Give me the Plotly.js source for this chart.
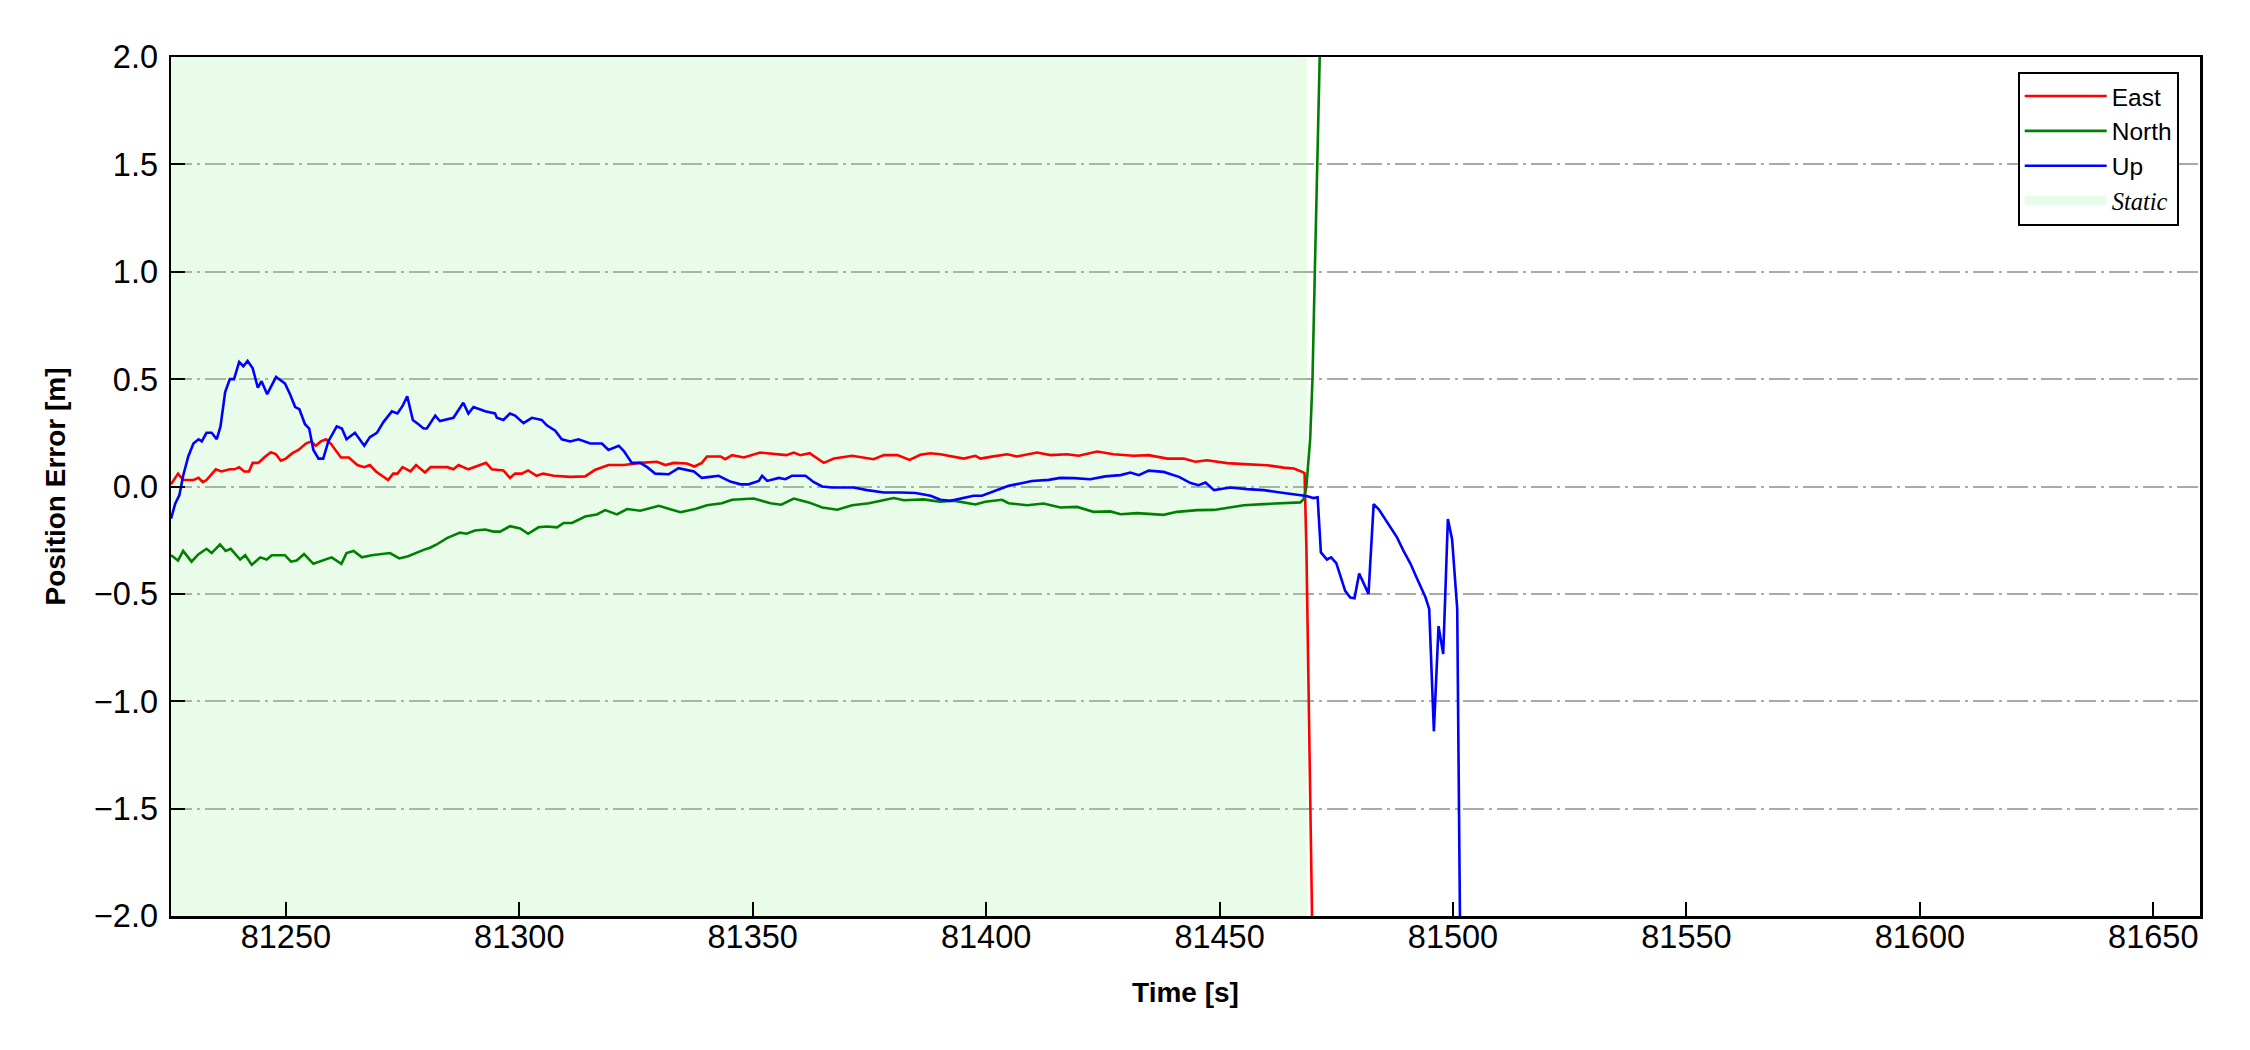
<!DOCTYPE html>
<html>
<head>
<meta charset="utf-8">
<script src="https://cdn.plot.ly/plotly-3.0.1.min.js"></script>
<style>html,body{margin:0;padding:0;background:#fff;}</style>
</head>
<body>
<div id="chart" style="width:2250px;height:1050px;"></div>
<script>
// ---- Data ----
const eastT = [81225.4,81226.9,81228.0,81230.2,81231.3,81232.2,81233.0,81235.0,81236.2,81238.0,81239.0,81240.0,81241.1,81242.1,81242.9,81244.1,81245.6,81246.8,81247.9,81248.9,81250.0,81251.4,81252.7,81254.3,81255.4,81256.4,81257.5,81258.6,81259.6,81260.7,81261.8,81263.5,81265.3,81266.8,81268.0,81269.3,81270.5,81271.9,81273.0,81273.9,81275.0,81276.7,81277.9,81279.8,81281.0,81282.6,81284.6,81285.9,81287.0,81289.1,81290.9,81292.9,81294.1,81296.6,81298.0,81299.1,81300.5,81301.9,81303.7,81305.1,81307.4,81310.9,81314.1,81316.3,81319.1,81322.4,81325.9,81329.5,81331.3,81333.1,81335.9,81337.5,81339.1,81340.2,81343.1,81344.1,81345.6,81348.1,81351.6,81354.5,81357.2,81358.8,81360.2,81362.2,81365.2,81367.4,81371.3,81375.9,81378.1,81381.0,81383.6,81385.9,81388.0,81390.2,81393.0,81395.2,81397.7,81398.8,81400.9,81404.5,81406.6,81410.9,81413.8,81417.3,81419.8,81423.8,81427.3,81431.6,81434.8,81438.8,81442.3,81444.8,81447.3,81451.6,81455.2,81460.2,81463.7,81465.9,81467.7,81468.2,81468.6,81469.8,81471.0];
const eastV = [0.01,0.06,0.03,0.03,0.04,0.02,0.03,0.08,0.07,0.08,0.08,0.09,0.07,0.07,0.11,0.11,0.14,0.16,0.15,0.12,0.13,0.155,0.17,0.20,0.21,0.19,0.21,0.22,0.20,0.17,0.135,0.135,0.10,0.09,0.10,0.07,0.05,0.03,0.06,0.06,0.09,0.07,0.10,0.065,0.09,0.09,0.09,0.08,0.10,0.08,0.095,0.11,0.08,0.075,0.04,0.06,0.06,0.075,0.05,0.06,0.05,0.045,0.047,0.078,0.10,0.10,0.11,0.115,0.10,0.11,0.107,0.093,0.11,0.14,0.14,0.127,0.146,0.135,0.158,0.15,0.146,0.158,0.146,0.155,0.11,0.13,0.143,0.127,0.146,0.146,0.124,0.148,0.155,0.15,0.14,0.13,0.143,0.13,0.138,0.15,0.14,0.158,0.146,0.15,0.143,0.163,0.15,0.143,0.146,0.13,0.13,0.115,0.122,0.109,0.104,0.099,0.088,0.084,0.068,0.062,-0.29,-2.0,-3.7];

const northT = [81225.4,81226.9,81228.0,81229.8,81231.3,81233.0,81234.1,81235.9,81237.1,81238.2,81240.2,81241.3,81242.7,81244.5,81245.9,81247.0,81249.8,81251.1,81252.3,81253.9,81255.9,81258.0,81259.8,81261.9,81263.0,81264.5,81266.3,81268.4,81270.2,81272.3,81274.3,81276.2,81279.5,81280.9,81282.3,81284.5,81287.3,81288.7,81290.5,81292.7,81294.5,81295.9,81298.0,81300.2,81301.9,81304.1,81305.9,81308.1,81309.5,81311.3,81314.1,81316.6,81318.4,81320.9,81323.1,81325.9,81329.9,81334.5,81337.7,81340.2,81343.4,81345.6,81350.2,81353.8,81356.1,81358.8,81362.0,81364.9,81368.1,81371.3,81374.9,81377.4,81380.2,81382.4,81386.6,81388.8,81390.2,81393.0,81395.2,81397.7,81399.8,81403.4,81404.8,81408.8,81412.3,81415.9,81419.5,81423.0,81426.6,81428.8,81432.3,81435.2,81438.0,81440.9,81445.2,81448.8,81452.3,81455.2,81459.5,81463.0,81467.3,81468.0,81468.6,81469.4,81469.9,81470.4,81470.9,81471.5,81472.5];
const northV = [-0.32,-0.345,-0.30,-0.35,-0.315,-0.29,-0.31,-0.27,-0.30,-0.29,-0.34,-0.32,-0.365,-0.33,-0.34,-0.32,-0.32,-0.35,-0.345,-0.315,-0.36,-0.345,-0.33,-0.36,-0.31,-0.30,-0.33,-0.32,-0.315,-0.31,-0.335,-0.325,-0.295,-0.285,-0.27,-0.24,-0.215,-0.22,-0.205,-0.20,-0.21,-0.21,-0.185,-0.195,-0.22,-0.19,-0.186,-0.19,-0.17,-0.17,-0.14,-0.13,-0.11,-0.13,-0.105,-0.113,-0.09,-0.12,-0.105,-0.087,-0.078,-0.062,-0.056,-0.078,-0.085,-0.056,-0.074,-0.098,-0.108,-0.087,-0.078,-0.067,-0.054,-0.064,-0.06,-0.067,-0.071,-0.066,-0.074,-0.084,-0.071,-0.062,-0.078,-0.087,-0.079,-0.098,-0.095,-0.118,-0.116,-0.129,-0.124,-0.129,-0.132,-0.118,-0.110,-0.109,-0.098,-0.087,-0.082,-0.078,-0.074,-0.059,0.0,0.22,0.5,1.0,1.5,2.0,3.0];

const upT = [81225.4,81226.3,81227.2,81228.0,81229.1,81230.2,81231.3,81232.0,81233.0,81234.1,81235.2,81236.0,81237.0,81238.0,81238.9,81240.0,81240.9,81241.8,81242.9,81244.0,81244.8,81246.0,81247.9,81249.8,81250.9,81252.0,81252.9,81254.1,81255.0,81255.9,81257.0,81258.0,81259.1,81260.9,81262.0,81263.0,81264.8,81266.8,81268.0,81269.5,81270.9,81272.7,81273.9,81275.0,81276.0,81277.2,81278.4,81279.5,81280.2,81282.0,81283.0,81285.9,81288.0,81289.1,81290.2,81292.7,81294.8,81295.2,81296.6,81298.0,81299.1,81300.9,81302.7,81304.8,81305.9,81307.7,81309.1,81310.9,81312.7,81315.2,81317.7,81319.1,81321.3,81322.4,81324.1,81325.9,81327.4,81329.1,81332.0,81334.1,81337.4,81339.1,81340.9,81342.7,81345.2,81347.4,81349.1,81351.3,81352.0,81353.1,81355.6,81357.0,81358.4,81361.3,81363.1,81364.9,81367.0,81371.6,81374.5,81378.1,81381.6,81384.9,81388.1,81390.2,81392.3,81394.5,81397.3,81399.1,81401.3,81404.8,81407.3,81409.8,81413.4,81415.9,81418.8,81422.3,81425.5,81428.8,81430.9,81432.7,81434.8,81438.0,81441.3,81443.8,81445.5,81447.0,81448.8,81452.3,81455.9,81459.5,81463.0,81466.4,81468.6,81470.1,81471.0,81471.7,81473.0,81473.9,81475.0,81476.9,81478.0,81478.9,81479.9,81481.9,81483.0,81484.1,81485.5,81486.6,81488.0,81489.4,81490.9,81491.9,81493.0,81494.1,81494.9,81495.9,81496.9,81497.9,81498.9,81499.8,81500.9,81501.6,81502.5];
const upV = [-0.15,-0.08,-0.04,0.05,0.14,0.20,0.22,0.21,0.25,0.25,0.22,0.28,0.44,0.50,0.50,0.58,0.56,0.585,0.55,0.46,0.49,0.43,0.51,0.48,0.43,0.37,0.36,0.29,0.27,0.17,0.13,0.13,0.21,0.28,0.27,0.22,0.25,0.19,0.23,0.25,0.30,0.35,0.34,0.375,0.42,0.31,0.29,0.27,0.27,0.33,0.305,0.32,0.39,0.34,0.37,0.35,0.34,0.32,0.31,0.34,0.33,0.295,0.32,0.31,0.285,0.26,0.22,0.21,0.22,0.20,0.20,0.17,0.19,0.165,0.11,0.11,0.09,0.06,0.057,0.085,0.07,0.04,0.045,0.05,0.023,0.01,0.01,0.026,0.05,0.026,0.04,0.034,0.05,0.05,0.02,0.0,-0.005,-0.005,-0.017,-0.028,-0.028,-0.03,-0.043,-0.062,-0.067,-0.056,-0.043,-0.043,-0.025,0.003,0.014,0.026,0.031,0.04,0.039,0.034,0.047,0.053,0.065,0.053,0.074,0.068,0.045,0.016,0.006,0.019,-0.017,-0.005,-0.012,-0.017,-0.028,-0.039,-0.044,-0.054,-0.05,-0.307,-0.34,-0.33,-0.357,-0.486,-0.517,-0.52,-0.405,-0.50,-0.082,-0.106,-0.152,-0.187,-0.237,-0.30,-0.36,-0.41,-0.46,-0.516,-0.57,-1.14,-0.65,-0.78,-0.152,-0.245,-0.57,-2.0,-4.5];

const staticStart = 81225.4;
const staticEnd = 81468.7;
const xRange = [81225.4, 81660];
const yRange = [-2, 2];
const xTicks = [81250, 81300, 81350, 81400, 81450, 81500, 81550, 81600, 81650];
const yTicks = [-2.0, -1.5, -1.0, -0.5, 0.0, 0.5, 1.0, 1.5, 2.0];
const seriesNames = ['East', 'North', 'Up'];
const seriesColors = ['#ff0000', '#008000', '#0000ff'];
const staticName = 'Static';

const FONT = 'Liberation Sans, Arial, sans-serif';
const W = 2250, H = 1050;
const M = {l: 171, r: 50, t: 57, b: 134, pad: 0};
const plotH = H - M.t - M.b;

// Static interval: drawn as a band spanning the full y range (centre line, width = plot height)
const yMid = (yRange[0] + yRange[1]) / 2;
const traces = [
  {
    x: [staticStart, staticEnd], y: [yMid, yMid],
    type: 'scatter', mode: 'lines',
    line: {color: 'rgba(144,238,144,0.2)', width: plotH},
    name: '<span style="font-family:Liberation Serif"><i>' + staticName + '</i></span>',
    legendrank: 4, hoverinfo: 'skip'
  },
  {x: eastT, y: eastV, name: seriesNames[0], legendrank: 1},
  {x: northT, y: northV, name: seriesNames[1], legendrank: 2},
  {x: upT, y: upV, name: seriesNames[2], legendrank: 3}
];
for (let i = 1; i < traces.length; i++) {
  traces[i].type = 'scatter';
  traces[i].mode = 'lines';
  traces[i].line = {color: seriesColors[i - 1], width: 2.6};
}

const layout = {
  width: W, height: H,
  margin: M,
  paper_bgcolor: '#ffffff', plot_bgcolor: '#ffffff',
  font: {family: FONT, color: '#000000'},
  showlegend: true,
  legend: {
    x: 0.9895, y: 0.983, xanchor: 'right', yanchor: 'top',
    bgcolor: '#ffffff', bordercolor: '#000000', borderwidth: 2,
    font: {family: FONT, size: 24.5, color: '#000000'},
    itemwidth: 82, tracegroupgap: 0, traceorder: 'normal'
  },
  xaxis: {
    range: xRange, tickvals: xTicks, tickformat: 'd',
    ticks: 'inside', ticklen: 14, tickwidth: 2, tickcolor: '#000000',
    showline: true, linecolor: '#000000', linewidth: 2.5, mirror: true,
    showgrid: false, zeroline: false,
    tickfont: {family: FONT, size: 32.5, color: '#000000'},
    ticklabelstandoff: -10,
    title: {text: '<b>Time [s]</b>', font: {family: FONT, size: 28, color: '#000000'}, standoff: 29}
  },
  yaxis: {
    range: yRange, tickvals: yTicks, tickformat: '.1f',
    ticks: 'inside', ticklen: 14, tickwidth: 2, tickcolor: '#000000',
    showline: true, linecolor: '#000000', linewidth: 2.5, mirror: true,
    showgrid: true, gridcolor: '#a9a9a9', gridwidth: 2, griddash: '21px,5px,3px,5px',
    zeroline: false,
    tickfont: {family: FONT, size: 32.5, color: '#000000'},
    ticklabelstandoff: 4,
    title: {text: '<b>Position Error [m]</b>', font: {family: FONT, size: 28, color: '#000000'}, standoff: 20}
  }
};

Plotly.newPlot('chart', traces, layout, {displayModeBar: false, staticPlot: true});
</script>
</body>
</html>
